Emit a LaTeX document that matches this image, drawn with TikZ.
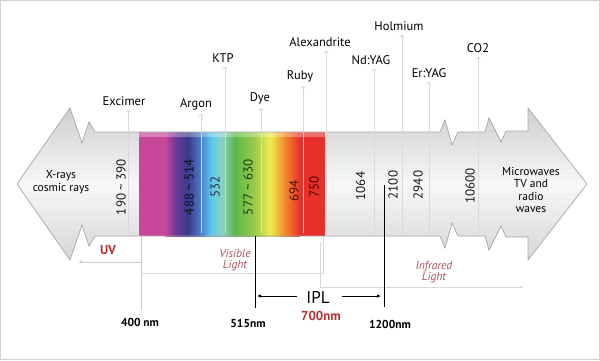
\documentclass[tikz,border=0pt]{standalone}
\usepackage{fontspec}
\setmainfont{PT Sans}
\usetikzlibrary{arrows.meta}
\definecolor{cMag}{HTML}{C8479A}
\definecolor{cPur}{HTML}{6A3A98}
\definecolor{cNavy}{HTML}{3A3A8A}
\definecolor{cBlue}{HTML}{4A78C8}
\definecolor{cCyan}{HTML}{5AC8EC}
\definecolor{cTeal}{HTML}{8CD0C0}
\definecolor{cGreen}{HTML}{5CB848}
\definecolor{cLime}{HTML}{9CCC4A}
\definecolor{cYel}{HTML}{F0EC50}
\definecolor{cOra}{HTML}{F08A2A}
\definecolor{cRed}{HTML}{E8302A}
\definecolor{txtred}{HTML}{B83030}
\definecolor{txtpink}{HTML}{B0505A}
\tikzset{
  lbl/.style={font=\fontsize{12.5}{14}\selectfont, inner sep=1pt, text=black},
  num/.style={rotate=90, font=\fontsize{13}{15}\selectfont, inner sep=0pt},
  side/.style={font=\fontsize{11.5}{12.5}\selectfont, align=center, inner sep=0pt, text=black},
  laser/.style={draw=gray!30, line width=0.8pt, -{Straight Barb[length=2pt,width=4.5pt]}, shorten >=3pt},
  nm/.style={font=\bfseries\fontsize{11.5}{13}\selectfont, inner sep=1pt, text=black},
  thinline/.style={draw=gray!40, line width=0.7pt},
  blackline/.style={draw=black, line width=0.8pt},
  rng/.style={font=\itshape\fontsize{11.5}{11.5}\selectfont, text=txtpink, align=center, inner sep=0pt},
}
\begin{document}
\begin{tikzpicture}[x=1pt,y=-1pt]
\useasboundingbox (0,0) rectangle (600,360);
\fill[white] (0,0) rectangle (600,360);
\draw[gray!35, line width=1pt] (0.5,0.5) rectangle (599.5,359.5);

% big double arrow
\def\arrowpath{(17,184) -- (70,108) -- (82,143) -- (89,122) -- (95,132) -- (440,132) -- (445,120) -- (452,145) -- (458,132) -- (485,132) -- (489,118) -- (501,142) -- (506,131) -- (528,131) -- (528,108) -- (587,184) -- (528,260) -- (528,237) -- (506,237) -- (501,226) -- (489,250) -- (485,236) -- (458,236) -- (452,223) -- (445,248) -- (440,236) -- (95,236) -- (89,246) -- (82,225) -- (70,260) -- cycle}
\shade[top color=gray!38, bottom color=gray!32, middle color=gray!6] \arrowpath;

% spectrum
\fill[cMag] (138.5,132) rectangle (165,236);
\shade[left color=cMag, right color=cPur] (164.8,132) rectangle (176,236);
\shade[left color=cPur, right color=cNavy] (175.8,132) rectangle (188,236);
\shade[left color=cNavy, right color=cBlue] (187.8,132) rectangle (200,236);
\shade[left color=cBlue, right color=cCyan] (199.8,132) rectangle (211,236);
\shade[left color=cCyan, right color=cTeal] (210.8,132) rectangle (222,236);
\shade[left color=cTeal, right color=cGreen] (221.8,132) rectangle (235,236);
\shade[left color=cGreen, right color=cLime] (234.8,132) rectangle (255,236);
\shade[left color=cLime, right color=cYel] (254.8,132) rectangle (270,236);
\shade[left color=cYel, right color=cOra] (269.8,132) rectangle (285,236);
\shade[left color=cOra, right color=cRed] (284.8,132) rectangle (300,236);
\fill[cRed] (299.8,132) rectangle (325,236);
\fill[white, opacity=0.3] (138.5,132) rectangle (325,137);

\draw[gray!70, line width=0.7pt] \arrowpath;

% side texts
\node[side] (xr) at (61,182) {X-rays\\cosmic rays};
\node[side] (mw) at (531,190) {Microwaves\\TV and\\radio\\waves};

% laser labels and pointer lines
\node[lbl] (exc) at (124,101) {Excimer};
\node[lbl] (arg) at (196,104) {Argon};
\node[lbl] (ktp) at (223,58) {KTP};
\node[lbl] (dye) at (260,98) {Dye};
\node[lbl] (rub) at (300,76) {Ruby};
\node[lbl] (alx) at (320,42) {Alexandrite};
\node[lbl] (ndy) at (371,60) {Nd:YAG};
\node[lbl] (hol) at (399,26) {Holmium};
\node[lbl] (ery) at (429,73) {Er:YAG};
\node[lbl] (co2) at (478,48) {CO2};

\coordinate (excb) at (128,233);
\coordinate (argb) at (201,233);
\coordinate (ktpb) at (225,233);
\coordinate (dyeb) at (261,233);
\coordinate (rubb) at (303,233);
\coordinate (alxb) at (326,233);
\coordinate (ndyb) at (374,233);
\coordinate (holb) at (402,233);
\coordinate (eryb) at (429,233);
\coordinate (co2b) at (478,233);

\draw[laser] (excb) -- (excb |- exc.south);
\draw[laser] (argb) -- (argb |- arg.south);
\draw[laser] (ktpb) -- (ktpb |- ktp.south);
\draw[laser] (dyeb) -- (dyeb |- dye.south);
\draw[laser] (rubb) -- (rubb |- rub.south);
\draw[laser] (alxb) -- (alxb |- alx.south);
\draw[laser] (ndyb) -- (ndyb |- ndy.south);
\draw[laser] (holb) -- (holb |- hol.south);
\draw[laser] (eryb) -- (eryb |- ery.south);
\draw[laser] (co2b) -- (co2b |- co2.south);

% wavelength numbers
\node[num, text=black!90] (n190) at (121,187) {190 \textasciitilde\ 390};
\node[num, text=black!75!cNavy] (n488) at (189,187) {488 \textasciitilde\ 514};
\node[num, text=black!60!cBlue] (n532) at (215,187) {532};
\node[num, text=black!70!cGreen] (n577) at (248,187) {577 \textasciitilde\ 630};
\node[num, text=black!70!cRed] (n694) at (294,191) {694};
\node[num, text=black!75!cRed] (n750) at (314,187) {750};
\node[num, text=black!90] (n1064) at (360.5,186) {1064};
\node[num, text=black!90] (n2100) at (393,185) {2100};
\node[num, text=black!90] (n2940) at (418,185) {2940};
\node[num, text=black!90] (n10600) at (470,186) {10600};

% ranges below
\node[font=\bfseries\fontsize{13}{13}\selectfont, text=txtred, inner sep=0pt] (uv) at (108,250) {UV};
\coordinate (uvs) at (141,262);
\coordinate (uve) at (78,262);
\draw[thinline, -{Latex[length=4pt,width=3pt]}] (uvs) -- (uve);

\coordinate (v400t) at (141,236);
\coordinate (v400b) at (141,310);
\draw[thinline] (v400t) -- (v400b);
\node[nm] (t400) at (140,322) {400 nm};

\node[rng] (vis) at (235,260) {Visible\\Light};
\coordinate (visl) at (141,273);
\coordinate (visr) at (323,273);
\coordinate (vist) at (323,236);
\draw[thinline, draw=gray!30] (visl) -- (visr) -- (vist);

\node[rng] (ir) at (434,272) {Infrared\\Light};
\coordinate (irt) at (320.5,242);
\coordinate (irc) at (320.5,287);
\coordinate (ire) at (524,287);
\draw[thinline, draw=gray!30, -{Latex[length=4pt,width=3pt]}] (irt) -- (irc) -- (ire);

% IPL
\coordinate (v515t) at (255,236);
\coordinate (v515b) at (255,308);
\draw[blackline] (v515t) -- (v515b);
\node[nm] (t515) at (248,323) {515nm};

\coordinate (v1200t) at (384,185);
\coordinate (v1200b) at (384,307);
\draw[blackline] (v1200t) -- (v1200b);
\node[nm] (t1200) at (390,324) {1200nm};

\node[font=\fontsize{17}{17}\selectfont, inner sep=0pt] (ipl) at (318,297) {IPL};
\node[font=\bfseries\fontsize{13}{13}\selectfont, text=txtred, inner sep=0pt] (t700) at (321,316) {700nm};
\coordinate (ipll) at (257,296);
\coordinate (iplr) at (381,296);
\draw[blackline, -{Latex[length=4pt,width=3.5pt]}] ([xshift=-9pt]ipl.west |- ipll) -- (ipll);
\draw[blackline, -{Latex[length=4pt,width=3.5pt]}] ([xshift=12pt]ipl.east |- iplr) -- (iplr);
\end{tikzpicture}
\end{document}
